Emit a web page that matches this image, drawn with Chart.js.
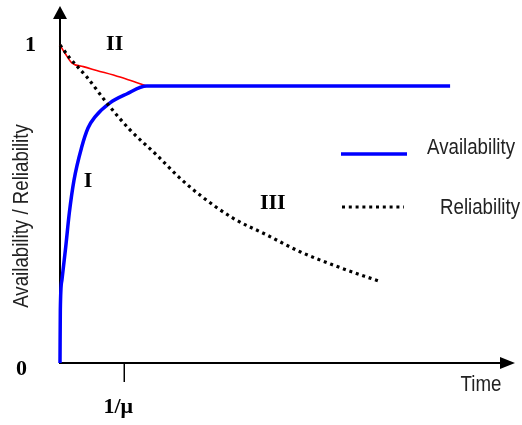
<!DOCTYPE html>
<html>
<head>
<meta charset="utf-8">
<script src="https://cdn.jsdelivr.net/npm/chart.js@4.4.1/dist/chart.umd.min.js"></script>
<style>
  html, body { margin: 0; padding: 0; background: #fff; }
  canvas { display: block; }
</style>
</head>
<body>
<canvas id="chart" width="522" height="425"></canvas>
<script>
// time in units of 1/mu, values in [0, 1]
const availX = [0, 0.005, 0.03, 0.089, 0.145, 0.218, 0.338, 0.436, 0.545, 0.778, 1.037, 1.349, 6.07];
const availY = [0, 0.167, 0.261, 0.365, 0.472, 0.575, 0.679, 0.739, 0.774, 0.818, 0.846, 0.871, 0.871];

const upperX = [0, 0.078, 0.182, 0.363, 0.571, 0.934, 1.349];
const upperY = [1, 0.974, 0.944, 0.932, 0.92, 0.899, 0.871];

const relX = [0, 0.156, 0.415, 0.727, 1.089, 1.505, 1.841, 2.178, 2.696, 3.215, 3.734, 4.252, 4.979];
const relY = [1, 0.958, 0.9, 0.818, 0.733, 0.654, 0.586, 0.528, 0.455, 0.403, 0.35, 0.308, 0.256];

const yTickValues = [0, 1];
const yTickLabels = ['0', '1'];
const xTickValues = [1];
const xTickLabels = ['1/\u03bc'];
const regionLabels = ['I', 'II', 'III'];

const toPoints = (xs, ys) => xs.map((x, i) => ({ x: x, y: ys[i] }));

const SERIF = 'bold 22px "Liberation Serif", "Times New Roman", serif';
const SANS = '22px "Liberation Sans", Arial, sans-serif';

// narrow sans text, like the original figure
function sansText(ctx, text, px, py, align, rotate) {
    ctx.save();
    ctx.translate(px, py);
    if (rotate) ctx.rotate(-Math.PI / 2);
    ctx.scale(0.85, 1);
    ctx.font = SANS;
    ctx.textAlign = align;
    ctx.textBaseline = 'middle';
    ctx.fillText(text, 0, 0);
    ctx.restore();
}

// axes with arrow heads, tick, labels and the in-plot legend
const decorations = {
    id: 'decorations',
    beforeDatasetsDraw(chart) {
        const { ctx, chartArea: a } = chart;
        ctx.save();
        ctx.strokeStyle = '#000';
        ctx.fillStyle = '#000';
        ctx.lineWidth = 2;

        // y axis
        ctx.beginPath();
        ctx.moveTo(a.left, a.bottom);
        ctx.lineTo(a.left, a.top + 10);
        ctx.stroke();
        ctx.beginPath();
        ctx.moveTo(a.left, a.top);
        ctx.lineTo(a.left - 7, a.top + 13);
        ctx.lineTo(a.left + 7, a.top + 13);
        ctx.closePath();
        ctx.fill();

        // x axis
        ctx.beginPath();
        ctx.moveTo(a.left - 1, a.bottom);
        ctx.lineTo(a.right - 10, a.bottom);
        ctx.stroke();
        ctx.beginPath();
        ctx.moveTo(a.right, a.bottom);
        ctx.lineTo(a.right - 15, a.bottom - 6);
        ctx.lineTo(a.right - 15, a.bottom + 6);
        ctx.closePath();
        ctx.fill();
        ctx.restore();
    },
    afterDatasetsDraw(chart) {
        const { ctx, chartArea: a, scales: { x, y } } = chart;
        ctx.save();
        ctx.fillStyle = '#000';
        ctx.strokeStyle = '#000';

        // x tick
        ctx.lineWidth = 1.5;
        xTickValues.forEach((v, i) => {
            const px = x.getPixelForValue(v);
            ctx.beginPath();
            ctx.moveTo(px, a.bottom);
            ctx.lineTo(px, a.bottom + 19);
            ctx.stroke();
            ctx.font = SERIF;
            ctx.textAlign = 'center';
            ctx.textBaseline = 'alphabetic';
            ctx.fillText(xTickLabels[i], px - 6, a.bottom + 50);
        });

        // y tick labels
        ctx.font = SERIF;
        ctx.textAlign = 'right';
        ctx.textBaseline = 'middle';
        ctx.fillText(yTickLabels[0], 27, y.getPixelForValue(yTickValues[0]) + 6);
        ctx.fillText(yTickLabels[1], 36, y.getPixelForValue(yTickValues[1]));

        // region labels
        ctx.textAlign = 'center';
        ctx.fillText(regionLabels[0], x.getPixelForValue(0.436), y.getPixelForValue(0.572));
        ctx.fillText(regionLabels[1], x.getPixelForValue(0.85), y.getPixelForValue(1.003));
        ctx.fillText(regionLabels[2], x.getPixelForValue(3.31), y.getPixelForValue(0.503));

        // axis titles
        ctx.fillStyle = '#222';
        sansText(ctx, 'Time', 481, 385, 'center', false);
        sansText(ctx, 'Availability / Reliability', 22, 216, 'center', true);

        // legend
        const ds = chart.data.datasets;
        ctx.lineWidth = ds[1].borderWidth;
        ctx.strokeStyle = ds[1].borderColor;
        ctx.beginPath();
        ctx.moveTo(341, 154);
        ctx.lineTo(407, 154);
        ctx.stroke();
        ctx.lineWidth = ds[0].borderWidth;
        ctx.strokeStyle = ds[0].borderColor;
        ctx.setLineDash(ds[0].borderDash);
        ctx.beginPath();
        ctx.moveTo(342, 207);
        ctx.lineTo(404, 207);
        ctx.stroke();
        ctx.setLineDash([]);
        sansText(ctx, ds[1].label, 427, 148, 'left', false);
        sansText(ctx, ds[0].label, 440, 208, 'left', false);
        ctx.restore();
    }
};

new Chart(document.getElementById('chart').getContext('2d'), {
    type: 'line',
    data: {
        datasets: [
            {
                label: 'Reliability',
                data: toPoints(relX, relY),
                borderColor: '#000000',
                borderWidth: 3.2,
                borderDash: [3, 3.8],
                cubicInterpolationMode: 'monotone',
                pointRadius: 0,
                order: 0,
                clip: 6,
            },
            {
                label: 'Availability',
                data: toPoints(availX, availY),
                borderColor: '#0000ff',
                borderWidth: 3.5,
                cubicInterpolationMode: 'monotone',
                pointRadius: 0,
                order: 1,
                clip: 6,
            },
            {
                label: 'upper',
                data: toPoints(upperX, upperY),
                borderColor: '#ff0000',
                borderWidth: 1.6,
                cubicInterpolationMode: 'monotone',
                pointRadius: 0,
                order: 2,
                clip: 6,
            }
        ]
    },
    options: {
        responsive: false,
        animation: false,
        layout: { padding: { left: 60, right: 7, top: 6, bottom: 62 } },
        plugins: {
            legend: { display: false },
            tooltip: { enabled: false },
        },
        scales: {
            x: { type: 'linear', min: 0, max: 7.08, display: false },
            y: { type: 'linear', min: 0, max: 1.1226, display: false },
        }
    },
    plugins: [decorations]
});
</script>
</body>
</html>
